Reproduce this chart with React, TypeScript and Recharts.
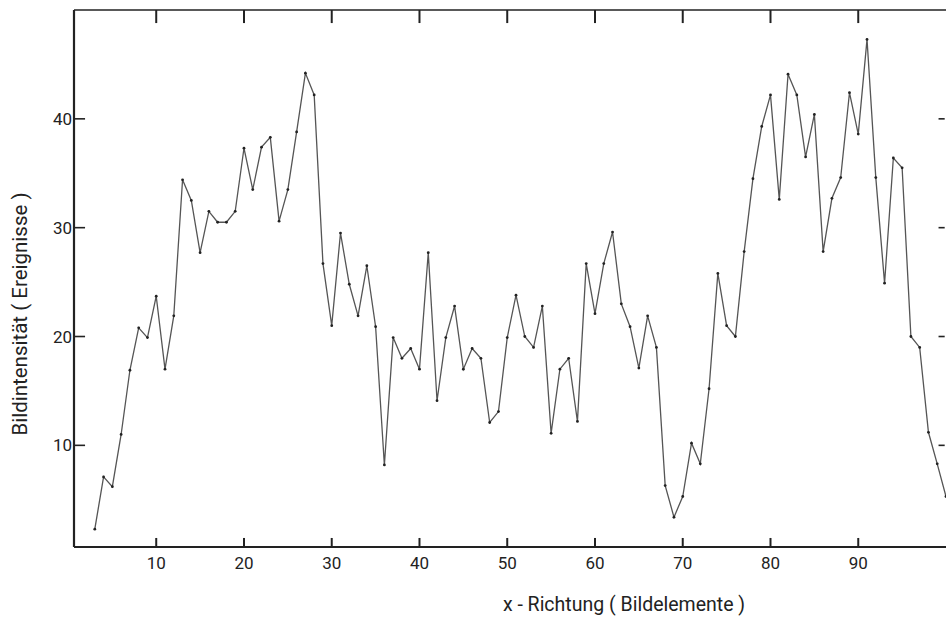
import React from 'react';
import { LineChart, Line, XAxis, YAxis, ReferenceLine } from 'recharts';

// picture elements (x - Richtung) and counted events at each
const positions = [
  3, 4, 5, 6, 7, 8, 9, 10, 11, 12, 13, 14, 15, 16, 17, 18, 19, 20, 21, 22,
  23, 24, 25, 26, 27, 28, 29, 30, 31, 32, 33, 34, 35, 36, 37, 38, 39, 40, 41, 42,
  43, 44, 45, 46, 47, 48, 49, 50, 51, 52, 53, 54, 55, 56, 57, 58, 59, 60, 61, 62,
  63, 64, 65, 66, 67, 68, 69, 70, 71, 72, 73, 74, 75, 76, 77, 78, 79, 80, 81, 82,
  83, 84, 85, 86, 87, 88, 89, 90, 91, 92, 93, 94, 95, 96, 97, 98, 99, 100,
];
const intensity = [
  2.3, 7.1, 6.2, 11.0, 16.9, 20.8, 19.9, 23.7, 17.0, 21.9, 34.4, 32.5, 27.7, 31.5, 30.5, 30.5, 31.5, 37.3, 33.5, 37.4,
  38.3, 30.6, 33.5, 38.8, 44.2, 42.2, 26.7, 21.0, 29.5, 24.8, 21.9, 26.5, 20.9, 8.2, 19.9, 18.0, 18.9, 17.0, 27.7, 14.1,
  19.9, 22.8, 17.0, 18.9, 18.0, 12.1, 13.1, 19.9, 23.8, 20.0, 19.0, 22.8, 11.1, 17.0, 18.0, 12.2, 26.7, 22.1, 26.7, 29.6,
  23.0, 20.9, 17.1, 21.9, 19.0, 6.3, 3.4, 5.3, 10.2, 8.3, 15.2, 25.8, 21.0, 20.0, 27.8, 34.5, 39.3, 42.2, 32.6, 44.1,
  42.2, 36.5, 40.4, 27.8, 32.7, 34.6, 42.4, 38.6, 47.3, 34.6, 24.9, 36.4, 35.5, 20.0, 19.0, 11.2, 8.3, 5.3,
];
const xTicks = [10, 20, 30, 40, 50, 60, 70, 80, 90];
const yTicks = [10, 20, 30, 40];

const data = positions.map((x, i) => ({ x, y: intensity[i] }));

const X_MIN = 0.63;
const X_MAX = 100;
const Y_MIN = 0.66;
const Y_MAX = 50;

const INK = '#222';
const FONT = 'Roboto, "DejaVu Sans", sans-serif';
const tickText = { fill: INK, fontSize: 17, fontFamily: FONT };

const Dot = (props: any) => {
  const { cx, cy, index } = props;
  return <circle key={index} cx={cx} cy={cy} r={1.4} fill={INK} />;
};

const XTitle = () => (
  <text x={624} y={604} textAnchor="middle" dominantBaseline="central" fill={INK} fontSize={19.5} fontFamily={FONT}>
    x - Richtung ( Bildelemente )
  </text>
);

const YTitle = () => (
  <text
    x={20}
    y={314}
    transform="rotate(-90 20 314)"
    textAnchor="middle"
    dominantBaseline="central"
    fill={INK}
    fontSize={20.5}
    fontFamily={FONT}
  >
    Bildintensität ( Ereignisse )
  </text>
);

export default function App() {
  const ids = { xAxisId: 'b', yAxisId: 'l' };
  return (
    <div style={{ position: 'absolute', left: 0, top: 0, width: 946, height: 619, background: '#fff' }}>
      <LineChart width={946} height={619} data={data} margin={{ top: 10, right: 0, bottom: 0, left: 0 }}>
        <XAxis
          xAxisId="b"
          dataKey="x"
          type="number"
          domain={[X_MIN, X_MAX]}
          allowDataOverflow
          ticks={xTicks}
          height={72}
          tickSize={0}
          tickMargin={10}
          tickLine={false}
          tick={tickText}
          axisLine={{ stroke: INK, strokeWidth: 2.2 }}
          label={<XTitle />}
        />
        <YAxis
          yAxisId="l"
          type="number"
          domain={[Y_MIN, Y_MAX]}
          allowDataOverflow
          ticks={yTicks}
          width={74}
          tickSize={0}
          tickMargin={2}
          tickLine={false}
          tick={tickText}
          axisLine={{ stroke: INK, strokeWidth: 2.2 }}
          label={<YTitle />}
        />

        {/* frame top edge */}
        <ReferenceLine {...ids} y={Y_MAX} stroke={INK} strokeWidth={1.6} ifOverflow="visible" />

        {/* inward tick marks: bottom and top */}
        {xTicks.map((t) => (
          <ReferenceLine
            key={`b${t}`}
            {...ids}
            segment={[{ x: t, y: Y_MIN }, { x: t, y: Y_MIN + 0.83 }]}
            stroke={INK}
            strokeWidth={2}
            ifOverflow="visible"
          />
        ))}
        {xTicks.map((t) => (
          <ReferenceLine
            key={`t${t}`}
            {...ids}
            segment={[{ x: t, y: Y_MAX }, { x: t, y: Y_MAX - 1.2 }]}
            stroke={INK}
            strokeWidth={2}
            ifOverflow="visible"
          />
        ))}
        {/* inward tick marks: left and right */}
        {yTicks.map((t) => (
          <ReferenceLine
            key={`l${t}`}
            {...ids}
            segment={[{ x: X_MIN, y: t }, { x: X_MIN + 1.26, y: t }]}
            stroke={INK}
            strokeWidth={1.6}
            ifOverflow="visible"
          />
        ))}
        {yTicks.map((t) => (
          <ReferenceLine
            key={`r${t}`}
            {...ids}
            segment={[{ x: 99.15, y: t }, { x: 99.85, y: t }]}
            stroke={INK}
            strokeWidth={1.6}
            ifOverflow="visible"
          />
        ))}

        <Line
          {...ids}
          type="linear"
          dataKey="y"
          stroke="#555"
          strokeWidth={1.3}
          dot={<Dot />}
          isAnimationActive={false}
        />
      </LineChart>
    </div>
  );
}
